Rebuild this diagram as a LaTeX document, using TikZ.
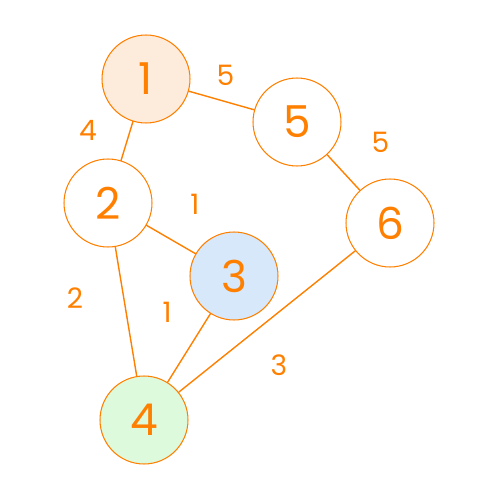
\documentclass[tikz,border=0pt]{standalone}
\usepackage{fontspec}
\setmainfont{Poppins}
\usepackage{tikz}
\definecolor{orng}{HTML}{FF8000}
\definecolor{peach}{HTML}{FDEBDC}
\definecolor{sky}{HTML}{D6E8FA}
\definecolor{mint}{HTML}{DDFADD}

\begin{document}
\begin{tikzpicture}[x=0.02cm, y=-0.02cm, line join=round, line cap=round,
	vertex/.style={circle, draw=orng, line width=0.6pt, fill=white, minimum size=1.76cm, inner sep=0pt, text=orng, font=\fontsize{25}{25}\selectfont},
	wlabel/.style={text=orng, font=\fontsize{16}{16}\selectfont},
	link/.style={draw=orng, line width=0.8pt}]
	\useasboundingbox (0,0) rectangle (500,500);
	\node[vertex, fill=peach] (v1) at (146,79) {1};
	\node[vertex] (v5) at (297,122) {5};
	\node[vertex] (v2) at (108,203) {2};
	\node[vertex] (v6) at (390,223) {6};
	\node[vertex, fill=sky] (v3) at (234,276) {3};
	\node[vertex, fill=mint] (v4) at (144,420) {4};
	\draw[link] (v1) -- node[wlabel, xshift=0.08cm, yshift=0.5cm] {5} (v5);
	\draw[link] (v1) -- node[wlabel, xshift=-0.78cm, yshift=0.22cm] {4} (v2);
	\draw[link] (v5) -- node[wlabel, xshift=0.74cm, yshift=0.6cm] {5} (v6);
	\draw[link] (v2) -- node[wlabel, xshift=0.48cm, yshift=0.7cm] {1} (v3);
	\draw[link] (v2) -- node[wlabel, xshift=-1.02cm, yshift=0.26cm] {2} (v4);
	\draw[link] (v3) -- node[wlabel, xshift=-0.44cm, yshift=0.72cm] {1} (v4);
	\draw[link] (v4) -- node[wlabel, xshift=0.24cm, yshift=-0.88cm] {3} (v6);
\end{tikzpicture}
\end{document}
